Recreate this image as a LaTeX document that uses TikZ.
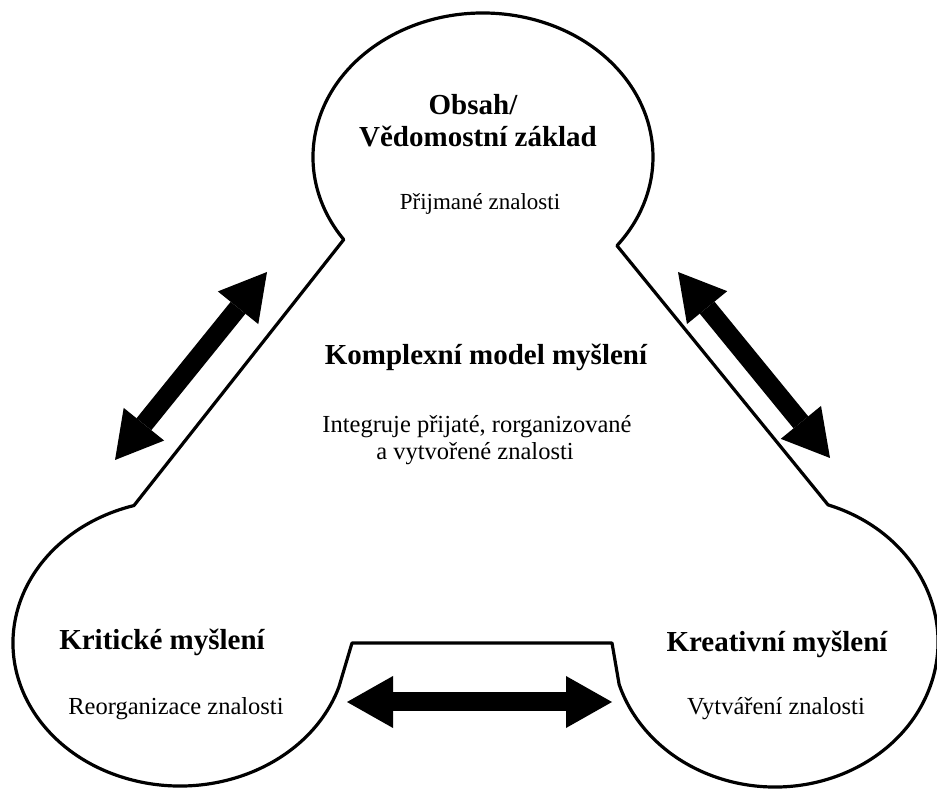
\documentclass[tikz,border=0pt]{standalone}
\usepackage{fontspec}
\setmainfont{Liberation Serif}
\usetikzlibrary{arrows.meta}

\begin{document}
\begin{tikzpicture}[x=1pt,y=1pt,
        head/.style={font=\fontsize{29}{32}\selectfont\bfseries, inner sep=0pt, anchor=base},
        note/.style={font=\fontsize{24.5}{27}\selectfont, inner sep=0pt, anchor=base},
        outline/.style={line width=3.2pt, line join=round},
        bigarrow/.style={line width=19pt,
            {Triangle[length=46pt,width=52pt,line width=0pt]}-{Triangle[length=46pt,width=52pt,line width=0pt]}}]
        \useasboundingbox (0,0) rectangle (937,790);

        \draw[outline] ([shift={(215:170 and 144)}]483,633)
            arc[start angle=215, end angle=-38, x radius=170, y radius=144]
            -- ([shift={(71:163 and 145)}]775,148)
            arc[start angle=71, end angle=-163, x radius=163, y radius=145]
            -- (612,147) -- (352,147)
            -- ([shift={(-18:167 and 143)}]180,147)
            arc[start angle=-18, end angle=-254, x radius=167, y radius=143]
            -- cycle;

        \node[head] (obsah) at (473, 675) {Obsah/};
        \node[head] (zaklad) at (478, 643) {Vědomostní základ};
        \node[note, font=\fontsize{23}{26}\selectfont] (prijmane) at (480, 580) {Přijmané znalosti};

        \node[head] (model) at (486, 425) {Komplexní model myšlení};
        \node[note] (integ1) at (477, 357) {Integruje přijaté, rorganizované};
        \node[note] (integ2) at (475, 330) {a vytvořené znalosti};

        \node[head] (kriticke) at (162, 140) {Kritické myšlení};
        \node[note] (reorg) at (176, 75) {Reorganizace znalosti};

        \node[head] (kreativni) at (777, 138) {Kreativní myšlení};
        \node[note] (vytvareni) at (776, 75) {Vytváření znalosti};

        \coordinate (la) at (267, 518);
        \coordinate (lb) at (115, 330);
        \coordinate (ra) at (678, 518);
        \coordinate (rb) at (830, 332);
        \coordinate (ba) at (347, 88);
        \coordinate (bb) at (612, 88);

        \draw[bigarrow] (lb) -- (la);
        \draw[bigarrow] (ra) -- (rb);
        \draw[bigarrow] (ba) -- (bb);
    \end{tikzpicture}
\end{document}
